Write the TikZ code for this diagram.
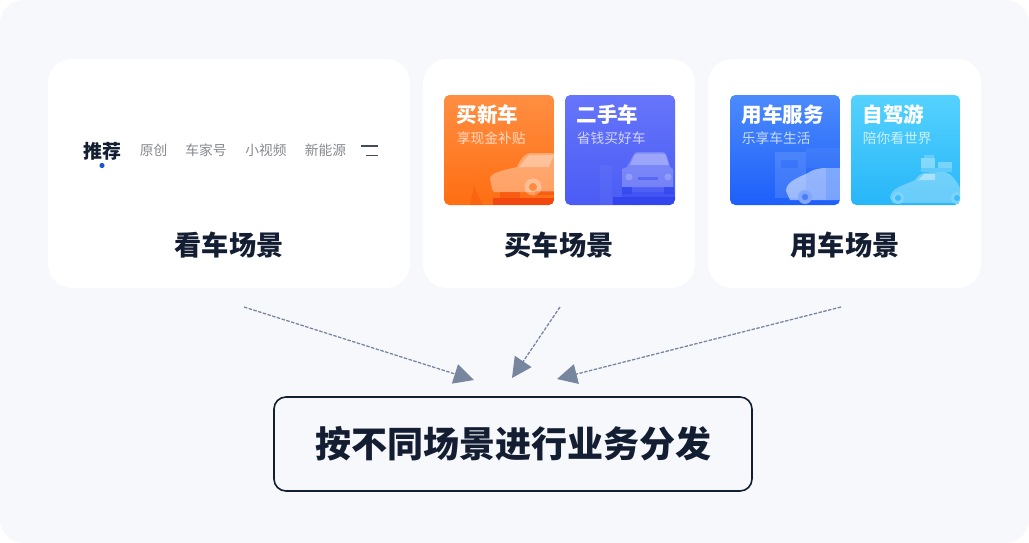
\documentclass[tikz,border=0pt]{standalone}
\usepackage{fontspec}
\setmainfont{Noto Sans CJK SC}
\usetikzlibrary{arrows.meta}
\definecolor{pagebg}{HTML}{F6F8FC}
\definecolor{inkdark}{HTML}{141E32}
\definecolor{tabgrey}{HTML}{85898F}
\definecolor{arrowblue}{HTML}{77859E}
\definecolor{dotblue}{HTML}{1B55C8}
\definecolor{FFtop}{HTML}{FF8E42}
\definecolor{FFbot}{HTML}{FF6E12}
\definecolor{FFdeep}{HTML}{F2480F}
\definecolor{VItop}{HTML}{6675FA}
\definecolor{VIbot}{HTML}{4A5CF5}
\definecolor{VIdeep}{HTML}{3346EE}
\definecolor{BLtop}{HTML}{4C8BFB}
\definecolor{BLbot}{HTML}{1D5FFA}
\definecolor{CYtop}{HTML}{55D2FE}
\definecolor{CYbot}{HTML}{27B6F8}
\tikzset{
  x=0.75pt,y=-0.75pt,
  card/.style={fill=white,rounded corners=18pt},
  cardlabel/.style={font=\fontsize{20.4pt}{22pt}\bfseries,text=inkdark,inner sep=0pt},
  tabtext/.style={font=\fontsize{10.3pt}{12pt}\selectfont,text=tabgrey,inner sep=0pt},
  tiletitle/.style={font=\fontsize{15.4pt}{17pt}\bfseries,text=white,inner sep=0pt,anchor=west},
  tilesub/.style={font=\fontsize{10.3pt}{12pt}\selectfont,text=white,text opacity=.72,inner sep=0pt,anchor=west},
  flow/.style={draw=arrowblue,line width=0.95pt,dash pattern=on 2.6pt off 1.1pt,
     -{Triangle[length=15pt,width=15pt,fill=arrowblue,sep=0pt]}},
  tileshape/.style={rounded corners=4pt},
  goalbox/.style={draw=inkdark,line width=1.2pt,fill=pagebg,rounded corners=9pt,
     minimum width=358.5pt,minimum height=70.5pt,inner sep=0pt,
     font=\fontsize{27pt}{30pt}\bfseries,text=inkdark},
}
\begin{document}
\begin{tikzpicture}
\useasboundingbox (0,0) rectangle (1029,543);
\fill[white] (0,0) rectangle (1029,543);
\fill[pagebg,rounded corners=18pt] (0,0) rectangle (1029,543);
% cards
\fill[card] (48,59) rectangle (410,288);
\fill[card] (423,59) rectangle (695,288);
\fill[card] (708,59) rectangle (981,288);
\node[cardlabel] (see) at (229,245) {看车场景};
\node[cardlabel] (buy) at (559,245) {买车场景};
\node[cardlabel] (use) at (845,245) {用车场景};
% tabs
\node[font=\fontsize{14.2pt}{17pt}\bfseries,text=inkdark,inner sep=0pt] (t0) at (102.5,151) {推荐};
\fill[dotblue] (102,165.5) circle (2.6);
\node[tabtext] (t1) at (153.5,150) {原创};
\node[tabtext] (t2) at (206,150) {车家号};
\node[tabtext] (t3) at (266,150) {小视频};
\node[tabtext] (t4) at (325.5,150) {新能源};
\draw[inkdark!80,line width=0.9pt] (361,146) -- (378,146);
\draw[inkdark!80,line width=0.9pt] (366,155.5) -- (378,155.5);
% tile 1: orange
\begin{scope}
\path[clip,tileshape] (444,95) rectangle (554,205);
\shade[top color=FFtop,bottom color=FFbot] (444,95) rectangle (554,205);
% car
\fill[white,opacity=.34] (492,189) -- (490,178) .. controls (492,172) and (505,170) .. (517,167)
   .. controls (520,160) and (524,154) .. (530,153) -- (554,153) -- (554,192) -- (494,192) -- cycle;
\fill[white,opacity=.3] (519,167) -- (529,155) -- (554,155) -- (549,167) -- cycle;
\fill[FFdeep,opacity=.5] (535,191) rectangle (554,195);
\fill[white,opacity=.3] (533,187) circle (8.5);
\fill[FFbot!80!white] (533,187) circle (4);
\fill[FFdeep] (493,198) rectangle (554,205);
\fill[FFdeep,opacity=.5] (500,192) rectangle (520,198);
\fill[FFdeep,opacity=.3] (470,205) -- (474,185) -- (478,196) -- (483,205) -- cycle;
\end{scope}
% tile 2: violet blue
\begin{scope}
\path[clip,tileshape] (565,95) rectangle (675,205);
\shade[top color=VItop,bottom color=VIbot] (565,95) rectangle (675,205);
\fill[white,opacity=.04] (600,165) rectangle (612,205);
% car front
\fill[white,opacity=.22] (633,156) .. controls (634,153) and (636,152) .. (640,152) -- (660,152)
   .. controls (664,152) and (666,153) .. (667,156) -- (670,167) -- (673,169) -- (673,187) -- (622,187) -- (622,169) -- (627,167) -- cycle;
\fill[white,opacity=.25] (630,165) -- (635,153.5) -- (665,153.5) -- (669,165) -- cycle;
\fill[VIdeep,opacity=.45] (638,177) rectangle (658,180);
\fill[white,opacity=.2] (629,177) circle (3.5);
\fill[white,opacity=.2] (668,177) circle (3.5);
\fill[VIdeep] (613,197) rectangle (675,205);
\fill[VIdeep,opacity=.8] (622,187) rectangle (632,194);
\fill[VIdeep,opacity=.8] (664,187) rectangle (674,194);
\fill[VIdeep,opacity=.45] (622,192) rectangle (675,197);
\end{scope}
% tile 3: blue
\begin{scope}
\path[clip,tileshape] (730,95) rectangle (840,205);
\shade[top color=BLtop,bottom color=BLbot] (730,95) rectangle (840,205);
\fill[white,opacity=.12] (775,152) rectangle (806,198);
\fill[white,opacity=.05] (806,148) rectangle (840,168);
\fill[BLbot,opacity=.3] (781,160) rectangle (798,168);
% car
\fill[white,opacity=.5] (786,191) .. controls (786,182) and (797,178) .. (808,173)
   .. controls (812,170) and (818,168) .. (826,168) -- (840,168) -- (840,200) -- (790,200) -- cycle;
\fill[BLtop,opacity=.3] (826,168) rectangle (840,200);
\fill[BLbot!55!white] (805,197) circle (7);
\fill[BLbot!80!white] (805,197) circle (3.2);
\end{scope}
% tile 4: cyan
\begin{scope}
\path[clip,tileshape] (851,95) rectangle (960,205);
\shade[top color=CYtop,bottom color=CYbot] (851,95) rectangle (960,205);
\fill[white,opacity=.38] (921,158) rectangle (935,168);
\fill[white,opacity=.32] (938,162) rectangle (952,168);
\fill[white,opacity=.2] (924,155) rectangle (934,158);
\fill[white,opacity=.2] (921,168) rectangle (952,172);
% car
\fill[white,opacity=.3] (890,198) .. controls (890,188) and (905,185) .. (915,180)
   .. controls (918,175) and (922,172.5) .. (930,172.5) -- (945,172)
   .. controls (952,174) and (956,180) .. (960,188) -- (960,203) -- (893,203) -- cycle;
\fill[white,opacity=.4] (918,180) -- (924,174) -- (935,174) -- (935,180) -- cycle;
\fill[CYbot!60!white] (898,198) circle (6);
\fill[CYbot!90!white] (898,198) circle (3);
\fill[CYbot!60!white] (957,198) circle (6);
\fill[CYbot!90!white] (957,198) circle (3);
\end{scope}
% tile texts
\node[tiletitle] (a1) at (456.5,115) {买新车};
\node[tilesub]   (a2) at (456.7,138) {享现金补贴};
\node[tiletitle] (b1) at (576.5,115) {二手车};
\node[tilesub]   (b2) at (576.7,138) {省钱买好车};
\node[tiletitle] (c1) at (741.5,115) {用车服务};
\node[tilesub]   (c2) at (741.7,138) {乐享车生活};
\node[tiletitle] (d1) at (862.5,115) {自驾游};
\node[tilesub]   (d2) at (862.7,138) {陪你看世界};
% goal and connectors
\node[goalbox] (goal) at (513,444) {按不同场景进行业务分发};
\coordinate (s1) at (244,307); \coordinate (e1) at (474,380);
\coordinate (s2) at (560,307); \coordinate (e2) at (512,378);
\coordinate (s3) at (841,307); \coordinate (e3) at (557,379);
\draw[flow] (s1) -- (e1);
\draw[flow] (s2) -- (e2);
\draw[flow] (s3) -- (e3);
\end{tikzpicture}
\end{document}
